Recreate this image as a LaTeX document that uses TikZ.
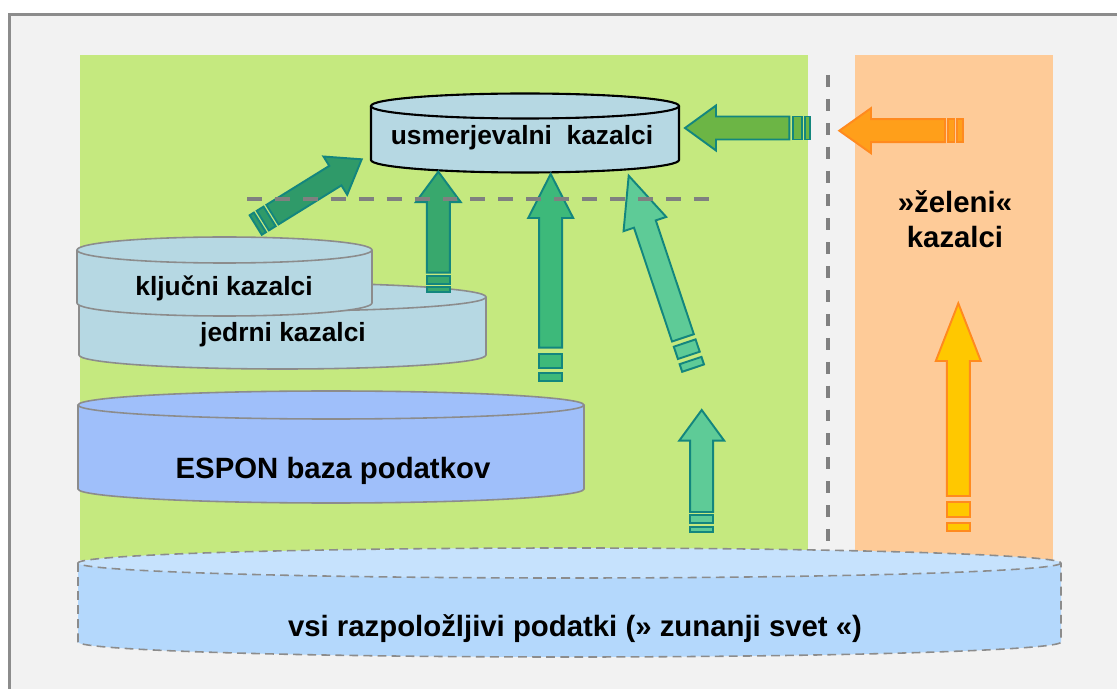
\documentclass[tikz,border=0pt]{standalone}
\usepackage{fontspec}
\setmainfont{Liberation Sans}
\definecolor{framegray}{HTML}{8C8C8C}
\definecolor{bggray}{HTML}{F2F2F2}
\definecolor{panelgreen}{HTML}{C5E97F}
\definecolor{panelorange}{HTML}{FECB98}
\definecolor{drumblue}{HTML}{B6D8E3}
\definecolor{esponblue}{HTML}{9FBFFA}
\definecolor{worldblue}{HTML}{B4D8FC}
\definecolor{worldtop}{HTML}{C6E2FD}
\definecolor{arrowteal}{HTML}{13867E}
\definecolor{darkgreen}{HTML}{2F9A69}
\definecolor{midgreen}{HTML}{38A86D}
\definecolor{tallgreen}{HTML}{3DB97A}
\definecolor{lightgreen}{HTML}{5ECB97}
\definecolor{leafgreen}{HTML}{6CB545}
\definecolor{orangefill}{HTML}{FF9F1A}
\definecolor{orangeline}{HTML}{FF8A1F}
\definecolor{yellowfill}{HTML}{FFC800}

\tikzset{
  greenarrow/.style={fill=#1, draw=arrowteal, line width=1.1pt},
  warmarrow/.style={fill=#1, draw=orangeline, line width=1.1pt},
  drum/.style={draw=framegray, line width=0.9pt},
  guide/.style={draw=gray, line width=2.2pt},
  bigtext/.style={font=\fontsize{16.7}{20}\selectfont\bfseries, inner sep=0pt, anchor=base},
  smalltext/.style={font=\fontsize{15}{18}\selectfont\bfseries, inner sep=0pt, anchor=base}
}

% block arrow: style, tip, turn, head length, shaft end, bar 1, bar 2
\newcommand{\blockarrow}[7]{%
  \begin{scope}[shift={#2}, rotate=#3, #1]
    \filldraw (0,0) -- (22.5,#4) -- (11.5,#4) -- (11.5,#5) -- (-11.5,#5) -- (-11.5,#4) -- (-22.5,#4) -- cycle;
    \filldraw (-11.5,#5+0.42*#6) rectangle (11.5,#5+1.42*#6);
    \filldraw (-11.5,#5+1.84*#6) rectangle (11.5,#5+1.84*#6+#7);
  \end{scope}}

% drum: style, top fill, left, right, top y, bottom y, y radius
\newcommand{\drumshape}[7]{%
  \filldraw[#1] (#3,#5) -- (#3,#6) arc[start angle=180, end angle=0, x radius={(#4-#3)/2}, y radius=#7] -- (#4,#5);
  \filldraw[#1, fill=#2] ({(#3+#4)/2},#5) ellipse [x radius={(#4-#3)/2}, y radius=#7];}

\begin{document}
\begin{tikzpicture}[x=0.02cm, y=-0.02cm]
\useasboundingbox (0,0) rectangle (1117,689);
\filldraw[fill=bggray, draw=framegray, line width=1.4pt] (9.5,14.5) rectangle (1140,710);
\fill[panelgreen] (80,55) rectangle (808,560);
\fill[panelorange] (855,55) rectangle (1053,560);
\draw[guide, dash pattern=on 6.8pt off 6.8pt] (828,75) -- (828,560);

\drumshape{drum, fill=worldblue, dashed, dash pattern=on 5pt off 3pt}{worldtop}{78}{1061}{563}{642}{15}
\drumshape{drum, fill=esponblue}{esponblue}{78}{584}{405}{489}{14}
\drumshape{drum, fill=drumblue}{drumblue}{79}{486}{297}{355}{14}
\drumshape{drum, fill=drumblue}{drumblue}{77}{372}{250}{303}{13}
\drumshape{drum, draw=black, line width=1.2pt, fill=drumblue}{drumblue}{371}{679}{106}{160}{12.5}

\node[smalltext] (main) at (522,145) {usmerjevalni\ \ kazalci};
\node[smalltext] (key) at (224,296) {ključni kazalci};
\node[smalltext] (core) at (283,342) {jedrni kazalci};
\node[bigtext] (espon) at (333,479) {ESPON baza podatkov};
\node[bigtext] (world) at (575,637) {vsi razpoložljivi podatki (» zunanji svet «)};
\node[bigtext] (green1) at (955,213) {»želeni«};
\node[bigtext] (green2) at (955,248) {kazalci};

\blockarrow{greenarrow=darkgreen}{(361.7,159.3)}{-58.2}{31}{105}{8}{5}
\blockarrow{greenarrow=midgreen}{(438.3,171.7)}{0}{30.5}{101}{8}{4.5}
\blockarrow{greenarrow=tallgreen}{(550.7,174)}{0}{44}{173.7}{14}{8}
\blockarrow{greenarrow=lightgreen}{(628.7,175.7)}{18.5}{51}{171}{13}{8}
\blockarrow{greenarrow=lightgreen}{(701.7,410)}{0}{30.7}{102}{8}{5}
\blockarrow{greenarrow=leafgreen}{(685,128)}{90}{31}{104.3}{8.7}{5}
\blockarrow{warmarrow=orangefill}{(839.3,130.7)}{90}{31.7}{105.7}{6.7}{6}
\blockarrow{warmarrow=yellowfill}{(958.3,303.3)}{0}{57.7}{192.7}{14.6}{8}

\draw[guide, dash pattern=on 8.5pt off 7.4pt] (247,199.3) -- (712,199.3);
\end{tikzpicture}
\end{document}
